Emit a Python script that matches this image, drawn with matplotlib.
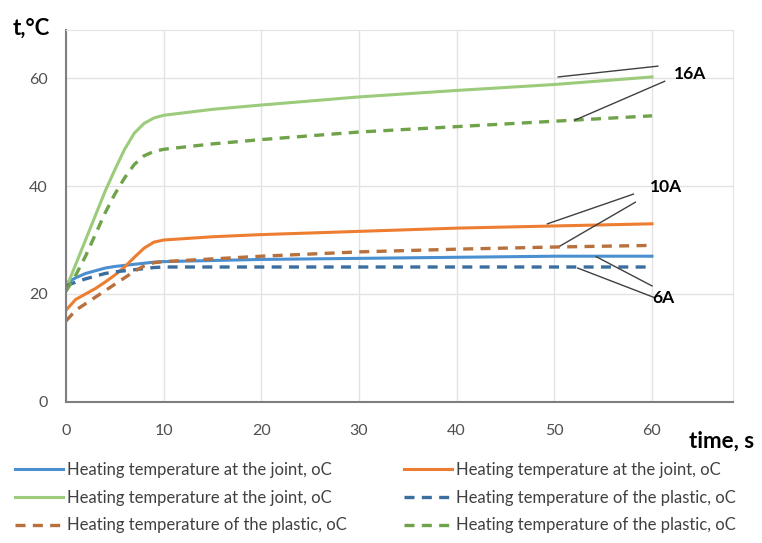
import matplotlib.pyplot as plt

plt.rcParams['font.family'] = ['Lato', 'DejaVu Sans']

# time, s
t_g = [0, 1, 2, 3, 4, 5, 6, 7, 8, 9, 10, 15, 20, 30, 40, 50, 60]
t_o = [0, 1, 2, 3, 4, 5, 6, 7, 8, 9, 10, 15, 20, 30, 40, 50, 60]
t_b = [0, 1, 2, 3, 4, 5, 6, 7, 8, 9, 10, 15, 20, 30, 40, 50, 60]

# 16A
green_joint = [21, 25.5, 30, 34.5, 39, 43, 46.8, 49.8, 51.6, 52.6, 53.1, 54.2, 55.0, 56.5, 57.7, 58.8, 60.2]
green_plastic = [20.5, 23.5, 27, 31, 35, 38.5, 41.5, 44, 45.6, 46.4, 46.8, 47.8, 48.6, 50.0, 51.0, 52.0, 53.0]
# 10A
orange_joint = [17, 19, 20, 21, 22.2, 23.5, 25, 26.8, 28.5, 29.6, 30.0, 30.6, 31.0, 31.6, 32.2, 32.6, 33.0]
orange_plastic = [15, 17, 18.2, 19.4, 20.6, 21.8, 23, 24.2, 25.2, 25.8, 26.0, 26.5, 27.0, 27.8, 28.3, 28.7, 29.0]
# 6A
blue_joint = [22, 23, 23.8, 24.3, 24.8, 25.1, 25.3, 25.5, 25.7, 25.9, 26.0, 26.2, 26.4, 26.6, 26.8, 27.0, 27.0]
blue_plastic = [21.5, 22.2, 22.8, 23.3, 23.8, 24.1, 24.3, 24.5, 24.7, 24.9, 25.0, 25.0, 25.0, 25.0, 25.0, 25.0, 25.0]

legend_label_joint = 'Heating temperature at the joint, oC'
legend_label_plastic = 'Heating temperature of the plastic, oC'

fig = plt.figure(figsize=(7.62, 5.43), dpi=100)
ax = fig.add_axes([0.0866, 0.2597, 0.8754, 0.6851])

dash = (0, (3, 2.2))
l1, = ax.plot(t_b, blue_joint, color='#4A8FD0', lw=2.2, label=legend_label_joint)
l2, = ax.plot(t_o, orange_joint, color='#ED7D31', lw=2.2, label=legend_label_joint)
l3, = ax.plot(t_g, green_joint, color='#9CCB7C', lw=2.2, label=legend_label_joint)
l4, = ax.plot(t_b, blue_plastic, color='#3A6E9E', lw=2.4, ls=dash, label=legend_label_plastic)
l5, = ax.plot(t_o, orange_plastic, color='#B8703C', lw=2.4, ls=dash, label=legend_label_plastic)
l6, = ax.plot(t_g, green_plastic, color='#6FA34A', lw=2.4, ls=dash, label=legend_label_plastic)

ax.set_xlim(0, 68.3)
ax.set_ylim(0, 68.9)
ax.set_xticks([0, 10, 20, 30, 40, 50, 60])
ax.set_yticks([0, 20, 40, 60])
ax.grid(True, color='#E3E3E3', lw=1)
ax.set_axisbelow(True)
for s in ['top', 'right']:
    ax.spines[s].set_color('#E3E3E3')
for s in ['left', 'bottom']:
    ax.spines[s].set_color('#7F7F7F')
    ax.spines[s].set_linewidth(1.5)
ax.tick_params(length=0, labelsize=11.5, labelcolor='#505050')
ax.tick_params(axis='x', pad=16)
ax.tick_params(axis='y', pad=13)

# callout lines
ax.plot([50.4, 60.6], [60.2, 62.2], color='#404040', lw=1)
ax.plot([52.1, 61.3], [52.2, 59.4], color='#404040', lw=1)
ax.plot([49.3, 58.1], [33.0, 38.5], color='#404040', lw=1)
ax.plot([50.6, 58.3], [28.9, 37.0], color='#404040', lw=1)
ax.plot([54.3, 60.0], [26.9, 21.5], color='#404040', lw=1)
ax.plot([52.4, 60.3], [24.8, 19.3], color='#404040', lw=1)
ax.text(62.2, 60.8, '16A', fontsize=12.5, fontweight='bold', va='center', clip_on=False)
ax.text(59.8, 39.8, '10A', fontsize=12.5, fontweight='bold', va='center', clip_on=False)
ax.text(60.0, 19.3, '6A', fontsize=12.5, fontweight='bold', va='center', clip_on=False)

fig.text(0.017, 0.948, 't,\u00b0C', fontsize=16, fontweight='bold', va='center')
fig.text(0.904, 0.187, 'time, s', fontsize=16, fontweight='bold', va='center')

handles = [l1, l3, l5, l2, l4, l6]
fig.legend(handles, [h.get_label() for h in handles], ncol=2, loc='upper left',
           bbox_to_anchor=(0.0197, 0.149), frameon=False, fontsize=12,
           labelcolor='#404040', handlelength=2.9, handletextpad=0.2,
           columnspacing=3.45, labelspacing=0.7, borderaxespad=0, borderpad=0)

fig.savefig('out.png', dpi=100)
